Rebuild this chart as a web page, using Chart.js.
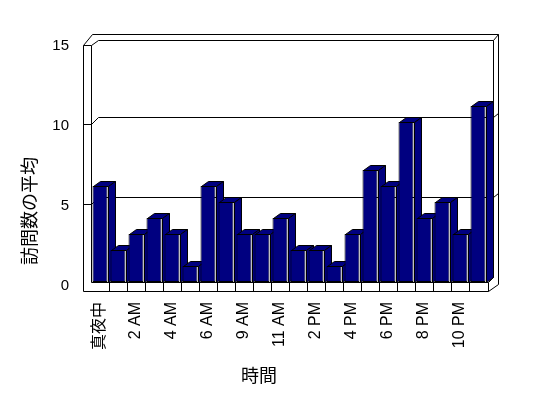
<!DOCTYPE html>
<html>
<head>
<meta charset="utf-8">
<script src="https://cdn.jsdelivr.net/npm/chart.js@4"></script>
<style>
  body { margin: 0; background: #fff; }
</style>
</head>
<body>
<canvas id="visits" width="548" height="398"></canvas>
<script>
// hours of the day (two hours are missing in the source data)
const hours = ['真夜中', '1 AM', '2 AM', '3 AM', '4 AM', '5 AM', '6 AM', '7 AM', '9 AM', '10 AM', '11 AM',
  '12 PM', '2 PM', '3 PM', '4 PM', '5 PM', '6 PM', '7 PM', '8 PM', '9 PM', '10 PM', '11 PM']
const avgVisits = [6, 2, 3, 4, 3, 1, 6, 5, 3, 3, 4, 2, 2, 1, 3, 7, 6, 10, 4, 5, 3, 11]
const yTicks = [0, 5, 10, 15]

const navy = '#000080'
const latin = "'Liberation Sans', 'Noto Sans CJK JP', sans-serif"
const cjk = "'Noto Sans CJK JP', sans-serif"

const line = (ctx, pts) => {
  ctx.beginPath()
  pts.forEach((p, i) => i ? ctx.lineTo(p[0] + .5, p[1] + .5) : ctx.moveTo(p[0] + .5, p[1] + .5))
  ctx.stroke()
}

// fake excel style 3d box + bar tops/sides
const box3d = {
  id: 'box3d',
  beforeDatasetsDraw(chart) {
    const ctx = chart.ctx
    const xs = chart.scales.x, ys = chart.scales.y
    const L = Math.round(chart.chartArea.left), R = Math.round(chart.chartArea.right)
    const B = Math.round(ys.getPixelForValue(0)), T = Math.round(ys.getPixelForValue(yTicks[yTicks.length - 1]))
    const oL = L - 8, bL = L + 7, bR = R + 6, oR = R + 11
    ctx.save()
    ctx.strokeStyle = '#000'
    ctx.lineWidth = 1

    // walls
    line(ctx, [[oL, B + 9], [oL, T + 3], [L, T + 3], [L, B]])
    line(ctx, [[oL, T + 3], [oL + 9, T - 8], [oR, T - 8], [oR, B + 2], [R + 1, B + 9]])
    line(ctx, [[L, T + 3], [bL, T - 2], [bR, T - 2], [oR, T - 8]])
    line(ctx, [[bR, T - 2], [bR, B - 5]])

    // gridlines
    yTicks.slice(1, -1).forEach(v => {
      const p = Math.round(ys.getPixelForValue(v))
      line(ctx, [[oL, p + 2], [L, p + 2], [bL, p - 5], [bR, p - 5], [oR, p - 9]])
    })

    // floor strip
    line(ctx, [[oL, B + 9], [R + 1, B + 9], [R + 1, B], [L, B]])
    line(ctx, [[R + 1, B], [bR, B - 5]])
    for (let i = 1; i < hours.length; i++) {
      const px = Math.round((xs.getPixelForValue(i - 1) + xs.getPixelForValue(i)) / 2)
      line(ctx, [[px, B], [px, B + 9]])
    }

    // bar tops and sides
    ctx.fillStyle = navy
    chart.getDatasetMeta(0).data.forEach(el => {
      const x1 = Math.round(el.x - el.width / 2), x2 = Math.round(el.x + el.width / 2)
      const yt = Math.round(el.y), yb = Math.round(el.base)
      const faces = [
        [[x1, yt], [x1 + 7, yt - 5], [x2 + 7, yt - 5], [x2, yt]],
        [[x2, yt], [x2 + 7, yt - 5], [x2 + 7, yb - 5], [x2, yb]]
      ]
      faces.forEach(f => {
        ctx.beginPath()
        f.forEach((p, i) => i ? ctx.lineTo(p[0] + .5, p[1] + .5) : ctx.moveTo(p[0] + .5, p[1] + .5))
        ctx.closePath()
        ctx.fill()
        ctx.stroke()
      })
    })
    ctx.restore()
  },
  afterDraw(chart) {
    const ctx = chart.ctx
    ctx.save()
    ctx.fillStyle = '#000'
    ctx.font = '18px ' + cjk
    ctx.textAlign = 'center'
    ctx.textBaseline = 'middle'
    ctx.fillText('時間', 259, 375)
    ctx.translate(29, 211)
    ctx.rotate(-Math.PI / 2)
    ctx.fillText('訪問数の平均', 0, 0)
    ctx.restore()
  }
}

Chart.defaults.color = '#000'

new Chart(document.getElementById('visits'), {
  type: 'bar',
  data: {
    labels: hours,
    datasets: [{
      data: avgVisits,
      backgroundColor: navy,
      borderColor: '#000',
      borderWidth: 1,
      borderSkipped: false,
      barPercentage: 15 / 18,
      categoryPercentage: 1
    }]
  },
  options: {
    responsive: false,
    animation: false,
    devicePixelRatio: 1,
    layout: { padding: { top: 42, right: 61, left: 0, bottom: 0 } },
    plugins: { legend: { display: false }, tooltip: { enabled: false } },
    scales: {
      x: {
        grid: { display: false, drawTicks: false },
        border: { display: false },
        afterFit: s => { s.height = 116 },
        ticks: {
          autoSkip: false,
          maxRotation: 90,
          minRotation: 90,
          padding: 20,
          font: { size: 16, family: latin },
          callback: function(v, i) { return i % 2 ? '' : this.getLabelForValue(v) }
        }
      },
      y: {
        min: 0,
        max: 15,
        grid: { display: false, drawTicks: false },
        border: { display: false },
        afterFit: s => { s.width = 91 },
        ticks: {
          stepSize: 5,
          padding: 22,
          labelOffset: 4,
          font: { size: 15, family: latin }
        }
      }
    }
  },
  plugins: [box3d]
})
</script>
</body>
</html>
